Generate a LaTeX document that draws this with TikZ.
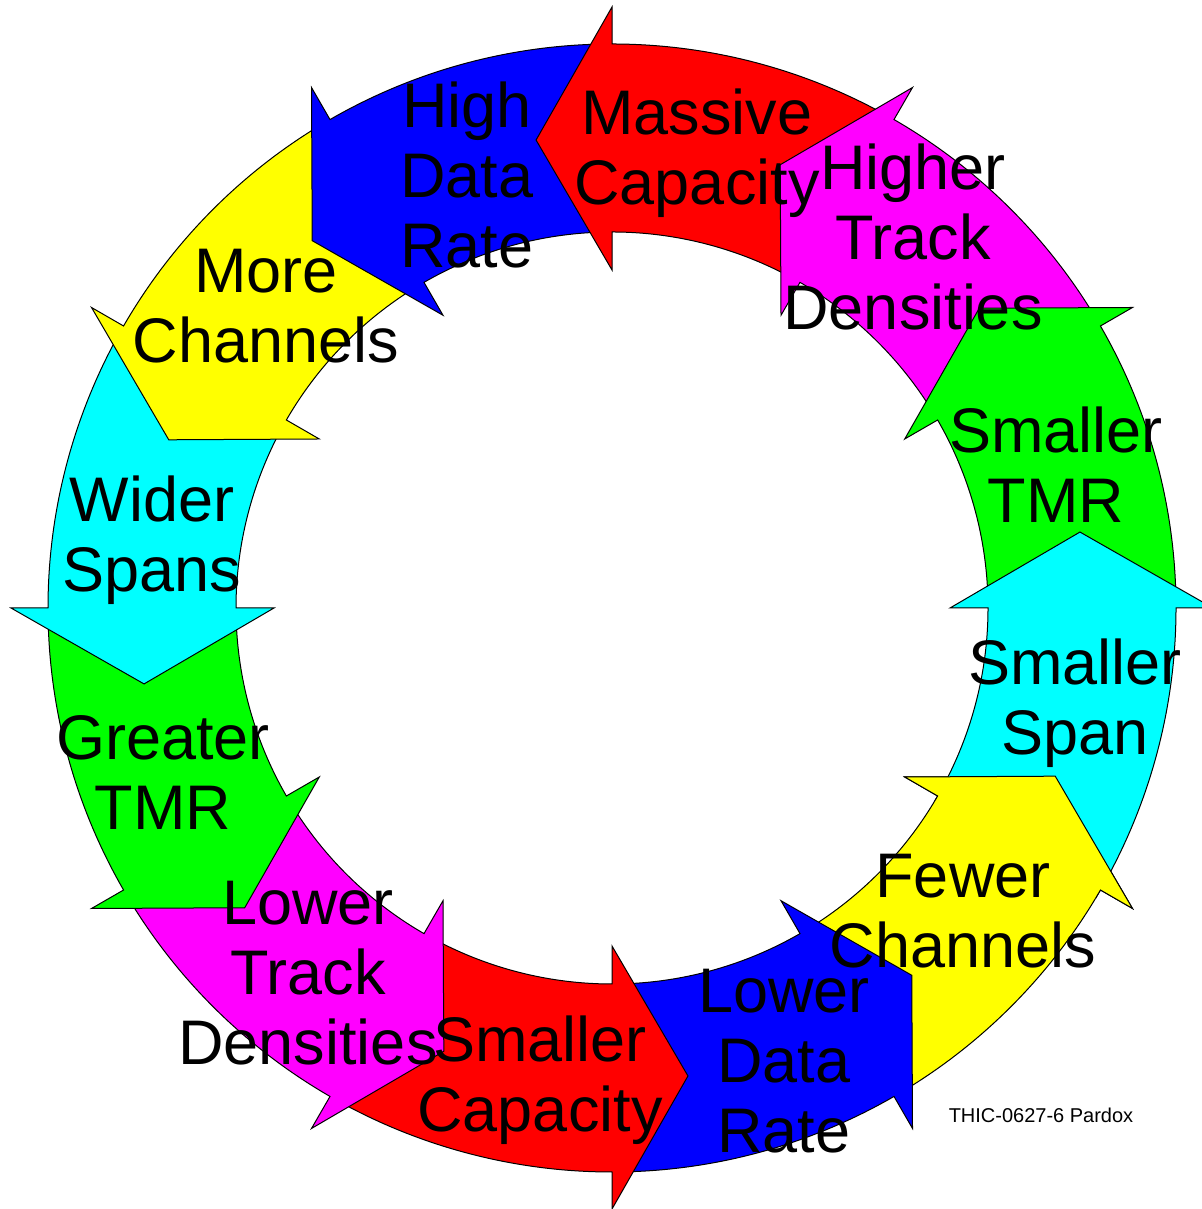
\documentclass[tikz,border=0pt]{standalone}
\usepackage{fontspec}
\setmainfont{Liberation Sans}
\definecolor{cy}{RGB}{0,255,255}
\definecolor{gr}{RGB}{0,255,0}
\definecolor{mg}{RGB}{255,0,255}
\definecolor{rd}{RGB}{255,0,0}
\definecolor{bl}{RGB}{0,0,255}
\definecolor{ye}{RGB}{255,255,0}
\begin{document}
\begin{tikzpicture}[x=0.5pt,y=0.5pt,
  outline/.style={draw=black,line width=0.5pt,line join=miter},
  lbl/.style={font=\fontsize{31.5}{35}\selectfont, align=center, anchor=base, inner sep=0pt},
  note/.style={font=\fontsize{10}{12}\selectfont, anchor=base, inner sep=0pt}]
\fill[white] (0,0) rectangle (1201,1209);
\useasboundingbox (0,0) rectangle (1201,1209);
\begin{scope}[shift={(612,601)}]
  % each arrow: body from a-30 to a, head at a pointing counter-clockwise
  \foreach \a/\c in {330/ye,300/bl,270/rd,240/mg,210/gr,180/cy,150/ye,120/bl,90/rd,60/mg,30/gr,0/cy}{
    \fill[\c] (\a-30:564) arc[start angle=\a-30, end angle=\a, radius=564]
      -- (\a:601) -- (\a+9.22:474.1) -- (\a:338) -- (\a:376)
      arc[start angle=\a, end angle=\a-30, radius=376] -- cycle;
    \draw[outline] (\a-30:564) arc[start angle=\a-30, end angle=\a, radius=564]
      -- (\a:601) -- (\a+9.22:474.1) -- (\a:338) -- (\a:376)
      arc[start angle=\a, end angle=\a-30, radius=376];
  }
  % the first arrow's head must lie over the last arrow's tail
  \fill[ye] (329:564) arc[start angle=329, end angle=330, radius=564]
      -- (330:601) -- (339.22:474.1) -- (330:338) -- (330:376)
      arc[start angle=330, end angle=329, radius=376] -- cycle;
  \draw[outline] (329:564) arc[start angle=329, end angle=330, radius=564]
      -- (330:601) -- (339.22:474.1) -- (330:338) -- (330:376)
      arc[start angle=330, end angle=329, radius=376];
\end{scope}
% labels (anchor base = last line's baseline)
\node[lbl] (massive) at (697,1004) {Massive\\Capacity};
\node[lbl] (highdr) at (467,941) {High\\Data\\Rate};
\node[lbl] (highertd) at (913,879) {Higher\\Track\\Densities};
\node[lbl] (smtmr) at (1056,686) {Smaller\\TMR};
\node[lbl] (smspan) at (1075,454) {Smaller\\Span};
\node[lbl] (fewer) at (963,241) {Fewer\\Channels};
\node[lbl] (lowerdr) at (784,56) {Lower\\Data\\Rate};
\node[lbl] (smcap) at (540,77) {Smaller\\Capacity};
\node[lbl] (lowertd) at (308,144) {Lower\\Track\\Densities};
\node[lbl] (greater) at (163,379) {Greater\\TMR};
\node[lbl] (wider) at (152,617) {Wider\\Spans};
\node[lbl] (more) at (266,846) {More\\Channels};
\node[note] (tag) at (1041,86) {THIC-0627-6 Pardox};
\end{tikzpicture}
\end{document}
